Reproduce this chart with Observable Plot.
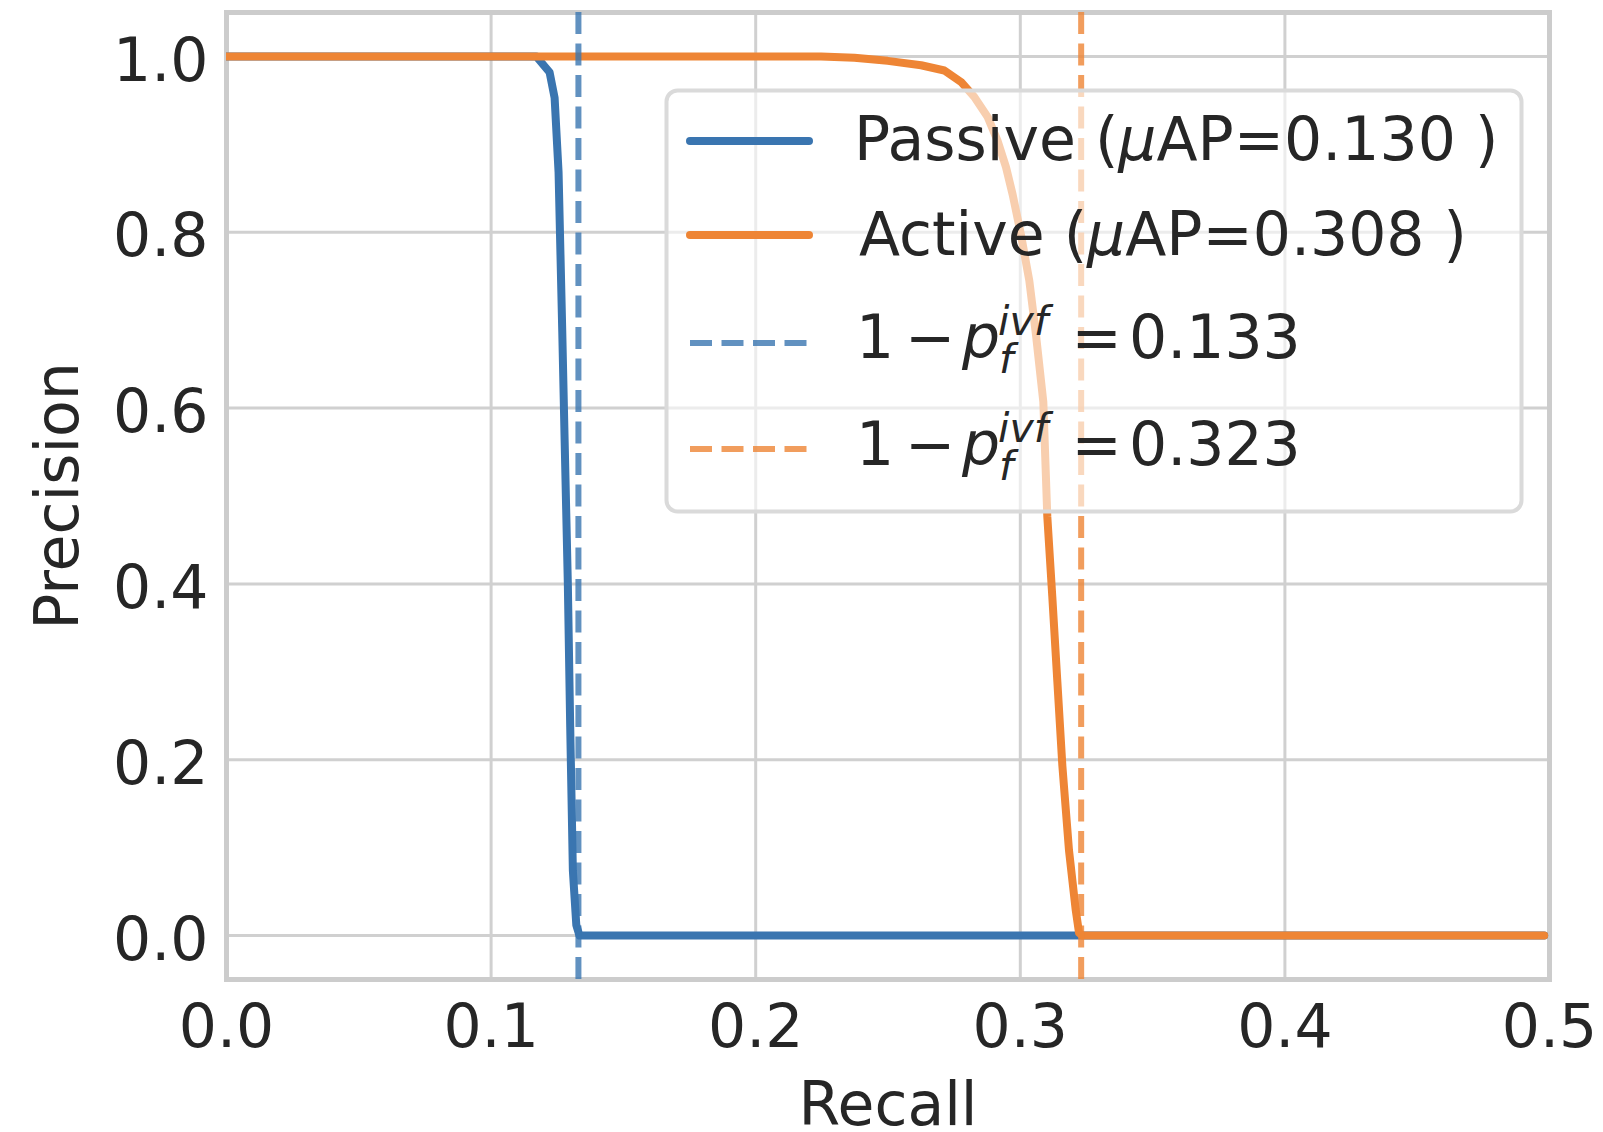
<!DOCTYPE html>
<html>
<head>
<meta charset="utf-8">
<script src="https://cdn.jsdelivr.net/npm/d3@7"></script>
<script src="https://cdn.jsdelivr.net/npm/@observablehq/plot@0.6"></script>
<style>
  html, body { margin: 0; padding: 0; background: #ffffff; overflow: hidden; }
  #chart svg { display: block; }
</style>
</head>
<body>
<div id="chart"></div>
<script>
// ---- data ----
const passiveRecall    = [0, 0.1171, 0.1221, 0.1240, 0.1255, 0.1269, 0.1278, 0.1290, 0.1299, 0.1309, 0.1322, 0.1334, 0.498];
const passivePrecision = [1, 1, 0.982, 0.953, 0.868, 0.686, 0.562, 0.400, 0.237, 0.074, 0.012, 0, 0];
const activeRecall     = [0, 0.2247, 0.2373, 0.2499, 0.2625, 0.2713, 0.2776, 0.2826, 0.2877, 0.2914, 0.2946, 0.2971, 0.3002, 0.3034, 0.3059, 0.3087, 0.3102, 0.3121, 0.3140, 0.3159, 0.3184, 0.3209, 0.3222, 0.3235, 0.498];
const activePrecision  = [1, 1, 0.9985, 0.995, 0.990, 0.984, 0.971, 0.954, 0.931, 0.904, 0.874, 0.843, 0.798, 0.745, 0.684, 0.607, 0.477, 0.385, 0.289, 0.193, 0.097, 0.030, 0.003, 0, 0];
const baselineValues   = [0.133, 0.323];
const xTicks = [0, 0.1, 0.2, 0.3, 0.4, 0.5];
const yTicks = [0, 0.2, 0.4, 0.6, 0.8, 1.0];
const seriesNames = ["Passive", "Active"];
const seriesAP = ["0.130", "0.308"];
const xLabel = "Recall";
const yLabel = "Precision";

// ---- style ----
const BLUE = "#3a75b0";
const ORANGE = "#ee8535";
const TEXT = "#262626";
const FONT = "DejaVu Sans";
const FS = 60;

const passive = passiveRecall.map((r, i) => ({recall: r, precision: passivePrecision[i]}));
const active = activeRecall.map((r, i) => ({recall: r, precision: activePrecision[i]}));
const rules = baselineValues.map((v, i) => ({v, color: i === 0 ? BLUE : ORANGE}));

const svg = Plot.plot({
  width: 1603,
  height: 1132,
  marginLeft: 226,
  marginRight: 54,
  marginTop: 12,
  marginBottom: 153,
  x: {domain: [0, 0.5]},
  y: {domain: [-0.05, 1.05]},
  style: {fontFamily: FONT, fontSize: FS + "px", color: TEXT, background: "#ffffff"},
  marks: [
    Plot.gridX(xTicks, {stroke: "#d0d0d0", strokeOpacity: 1, strokeWidth: 3}),
    Plot.gridY(yTicks, {stroke: "#d0d0d0", strokeOpacity: 1, strokeWidth: 3}),
    Plot.frame({stroke: "#cccccc", strokeWidth: 5}),
    Plot.line(passive, {x: "recall", y: "precision", stroke: BLUE, strokeWidth: 8, strokeLinecap: "round", strokeLinejoin: "round", clip: true}),
    Plot.line(active, {x: "recall", y: "precision", stroke: ORANGE, strokeWidth: 8, strokeLinecap: "round", strokeLinejoin: "round", clip: true}),
    Plot.ruleX(rules, {x: "v", stroke: "color", strokeOpacity: 0.8, strokeWidth: 6, strokeDasharray: "22,9.5"}),
    Plot.axisX(xTicks, {tickSize: 0, tickPadding: 25, tickFormat: d3.format(".1f"), fontSize: FS, fill: TEXT, label: null}),
    Plot.axisY(yTicks, {tickSize: 0, tickPadding: 18, tickFormat: d3.format(".1f"), fontSize: FS, fill: TEXT, dy: 5, label: null}),
    Plot.text([xLabel], {frameAnchor: "bottom", dy: 145, lineAnchor: "bottom", fontSize: FS, fill: TEXT}),
    Plot.text([yLabel], {frameAnchor: "left", textAnchor: "middle", rotate: -90, dx: -149, lineAnchor: "bottom", fontSize: FS, fill: TEXT})
  ]
});

// ---- legend (drawn over the plot, semi-transparent box) ----
const root = d3.select(svg);
const lg = root.append("g")
  .attr("font-family", FONT)
  .attr("fill", TEXT)
  .attr("text-anchor", "start")
  .style("text-anchor", "start");
lg.append("rect")
  .attr("x", 666.5).attr("y", 90.5).attr("width", 855).attr("height", 421)
  .attr("rx", 11).attr("ry", 11)
  .attr("fill", "#ffffff").attr("fill-opacity", 0.6)
  .attr("stroke", "#dadada").attr("stroke-width", 4);

const rowLineY = [141, 235, 343, 449];
const rowBase = [160, 255, 358.3, 465];

function addText(x, y, size, str, italic) {
  const t = lg.append("text")
    .attr("x", x).attr("y", y)
    .attr("font-size", size)
    .attr("text-anchor", "start")
    .text(str);
  if (italic) t.attr("font-style", "italic");
  return t;
}

// solid series entries
[BLUE, ORANGE].forEach((c, i) => {
  lg.append("line")
    .attr("x1", 690).attr("x2", 809).attr("y1", rowLineY[i]).attr("y2", rowLineY[i])
    .attr("stroke", c).attr("stroke-width", 8).attr("stroke-linecap", "round");
  const t = lg.append("text")
    .attr("x", i === 0 ? 854 : 859).attr("y", rowBase[i])
    .attr("font-size", FS).attr("text-anchor", "start");
  t.append("tspan").text(seriesNames[i] + " (");
  t.append("tspan").attr("font-style", "italic").text("\u03bc");
  t.append("tspan").text("AP=" + seriesAP[i] + " )");
});

// dashed baseline entries
[BLUE, ORANGE].forEach((c, k) => {
  const i = k + 2;
  const b = rowBase[i];
  lg.append("line")
    .attr("x1", 690).attr("x2", 806.5).attr("y1", rowLineY[i]).attr("y2", rowLineY[i])
    .attr("stroke", c).attr("stroke-opacity", 0.8).attr("stroke-width", 6)
    .attr("stroke-dasharray", "22,9.5");
  addText(856, b, FS, "1");
  addText(905, b, FS, "\u2212");
  addText(962, b, FS, "p", true);
  addText(998, b - 23.5, 41, "ivf", true);
  addText(999, b + 15, 41, "f", true);
  addText(1071.5, b, FS, "=");
  addText(1129, b, FS, baselineValues[k].toFixed(3));
});

document.getElementById("chart").appendChild(svg);
</script>
</body>
</html>
